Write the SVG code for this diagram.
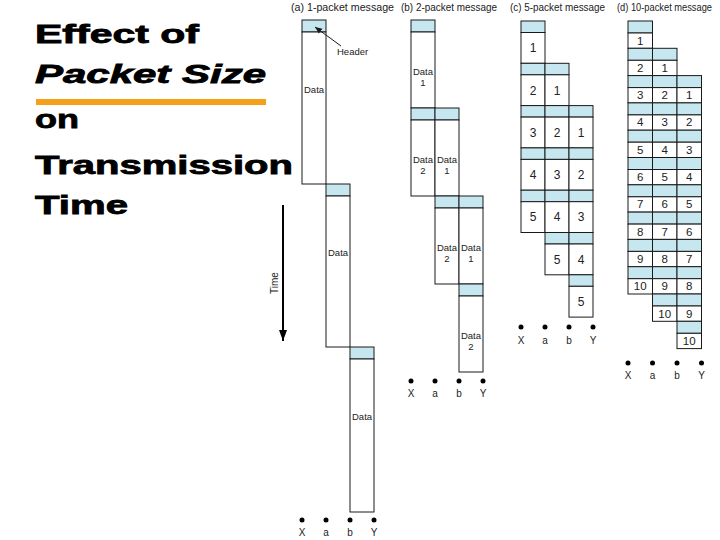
<svg xmlns="http://www.w3.org/2000/svg" width="720" height="540" viewBox="0 0 720 540">
<style>
.h{fill:#c6e6f0;stroke:#1a1a1a;stroke-width:1}
.d{fill:#fff;stroke:#1a1a1a;stroke-width:1}
.t{font-family:"Liberation Sans",Arial,sans-serif;font-size:9.5px;fill:#222}
.s{font-family:"Liberation Sans",Arial,sans-serif;font-size:10px;fill:#222}
.n{font-family:"Liberation Sans",Arial,sans-serif;font-size:12px;fill:#222;text-anchor:middle}
.m{font-family:"Liberation Sans",Arial,sans-serif;font-size:11.5px;fill:#222;text-anchor:middle}
.dc{font-family:"Liberation Sans",Arial,sans-serif;font-size:9.5px;fill:#222;text-anchor:middle}
.ti{font-family:"Liberation Sans",Arial,sans-serif;font-size:26px;font-weight:bold;fill:#000;stroke:#000;stroke-width:0.8}
.lb{font-family:"Liberation Sans",Arial,sans-serif;font-size:10px;fill:#222;text-anchor:middle}
</style>
<defs>
<marker id="ah" markerWidth="8" markerHeight="8" refX="7" refY="4" orient="auto" markerUnits="userSpaceOnUse">
<path d="M0,1 L7,4 L0,7 Z" fill="#1a1a1a"/>
</marker>
<marker id="ta" markerWidth="10" markerHeight="12" refX="5" refY="11" orient="0" markerUnits="userSpaceOnUse">
<path d="M1,0 L9,0 L5,11 Z" fill="#000"/>
</marker>
</defs>
<rect width="720" height="540" fill="#fff"/>

<g id="title">
<text class="ti" x="35" y="43" textLength="164" lengthAdjust="spacingAndGlyphs">Effect of</text>
<text class="ti" x="35" y="83" font-style="italic" textLength="231" lengthAdjust="spacingAndGlyphs">Packet Size</text>
<rect x="36" y="99" width="230" height="6" fill="#f5a01a"/>
<text class="ti" x="35" y="128" textLength="44" lengthAdjust="spacingAndGlyphs">on</text>
<text class="ti" x="35" y="174" textLength="258" lengthAdjust="spacingAndGlyphs">Transmission</text>
<text class="ti" x="35" y="214" textLength="93" lengthAdjust="spacingAndGlyphs">Time</text>
</g>

<g id="time-axis">
<line x1="283" y1="205" x2="283" y2="341" stroke="#000" stroke-width="2" marker-end="url(#ta)"/>
<text class="s" font-size="11" transform="translate(278,283) rotate(-90)" text-anchor="middle">Time</text>
</g>

<g id="panel-a">
<text class="s" x="291" y="11" textLength="103" lengthAdjust="spacingAndGlyphs">(a) 1-packet message</text>
<g id="a-col1">
<rect class="h" x="302" y="20" width="24" height="12"/>
<rect class="d" x="302" y="32" width="24" height="152"/>
<text class="t" x="304" y="93">Data</text>
</g>
<g id="a-col2">
<rect class="h" x="326" y="184" width="24" height="12"/>
<rect class="d" x="326" y="196" width="24" height="151"/>
<text class="t" x="328" y="256">Data</text>
</g>
<g id="a-col3">
<rect class="h" x="350" y="347" width="24" height="12"/>
<rect class="d" x="350" y="359" width="24" height="153"/>
<text class="t" x="352" y="420">Data</text>
</g>
<g id="a-header-label">
<text class="t" x="337" y="55">Header</text>
</g>
<g id="a-nodes">
<circle cx="302" cy="520" r="2.5" fill="#000"/><circle cx="326" cy="520" r="2.5" fill="#000"/><circle cx="350" cy="520" r="2.5" fill="#000"/><circle cx="374" cy="520" r="2.5" fill="#000"/>
<text class="lb" x="302" y="536">X</text><text class="lb" x="326" y="536">a</text><text class="lb" x="350" y="536">b</text><text class="lb" x="374" y="536">Y</text>
</g>
</g>

<g id="connectors">
<line x1="341" y1="46" x2="315" y2="27" stroke="#1a1a1a" stroke-width="1" marker-end="url(#ah)"/>
</g>

<g id="panel-b">
<text class="s" x="401" y="11" textLength="96" lengthAdjust="spacingAndGlyphs">(b) 2-packet message</text>
<g id="b-colX">
<rect class="h" x="411" y="20" width="24" height="12"/>
<rect class="d" x="411" y="32" width="24" height="76"/>
<text class="dc" x="423" y="75">Data</text><text class="dc" x="423" y="86">1</text>
<rect class="h" x="411" y="108" width="24" height="12"/>
<rect class="d" x="411" y="120" width="24" height="76"/>
<text class="dc" x="423" y="163">Data</text><text class="dc" x="423" y="174">2</text>
</g>
<g id="b-cola">
<rect class="h" x="435" y="108" width="24" height="12"/>
<rect class="d" x="435" y="120" width="24" height="76"/>
<text class="dc" x="447" y="163">Data</text><text class="dc" x="447" y="174">1</text>
<rect class="h" x="435" y="196" width="24" height="12"/>
<rect class="d" x="435" y="208" width="24" height="76"/>
<text class="dc" x="447" y="251">Data</text><text class="dc" x="447" y="262">2</text>
</g>
<g id="b-colb">
<rect class="h" x="459" y="196" width="24" height="12"/>
<rect class="d" x="459" y="208" width="24" height="76"/>
<text class="dc" x="471" y="251">Data</text><text class="dc" x="471" y="262">1</text>
<rect class="h" x="459" y="284" width="24" height="12"/>
<rect class="d" x="459" y="296" width="24" height="76"/>
<text class="dc" x="471" y="339">Data</text><text class="dc" x="471" y="350">2</text>
</g>
<g id="b-nodes">
<circle cx="411" cy="381" r="2.5" fill="#000"/><circle cx="435" cy="381" r="2.5" fill="#000"/><circle cx="459" cy="381" r="2.5" fill="#000"/><circle cx="483" cy="381" r="2.5" fill="#000"/>
<text class="lb" x="411" y="397">X</text><text class="lb" x="435" y="397">a</text><text class="lb" x="459" y="397">b</text><text class="lb" x="483" y="397">Y</text>
</g>
</g>

<g id="panel-c">
<text class="s" x="510" y="11" textLength="95" lengthAdjust="spacingAndGlyphs">(c) 5-packet message</text>
<g id="c-colX">
<rect class="h" x="521" y="21" width="24" height="11.5"/><rect class="d" x="521" y="32.5" width="24" height="30.8"/><text class="n" x="533" y="52">1</text>
<rect class="h" x="521" y="63.3" width="24" height="11.5"/><rect class="d" x="521" y="74.8" width="24" height="30.8"/><text class="n" x="533" y="94.5">2</text>
<rect class="h" x="521" y="105.6" width="24" height="11.5"/><rect class="d" x="521" y="117.1" width="24" height="30.8"/><text class="n" x="533" y="136.8">3</text>
<rect class="h" x="521" y="147.9" width="24" height="11.5"/><rect class="d" x="521" y="159.4" width="24" height="30.8"/><text class="n" x="533" y="179">4</text>
<rect class="h" x="521" y="190.2" width="24" height="11.5"/><rect class="d" x="521" y="201.7" width="24" height="30.8"/><text class="n" x="533" y="221.3">5</text>
</g>
<g id="c-cola">
<rect class="h" x="545" y="63.3" width="24" height="11.5"/><rect class="d" x="545" y="74.8" width="24" height="30.8"/><text class="n" x="557" y="94.5">1</text>
<rect class="h" x="545" y="105.6" width="24" height="11.5"/><rect class="d" x="545" y="117.1" width="24" height="30.8"/><text class="n" x="557" y="136.8">2</text>
<rect class="h" x="545" y="147.9" width="24" height="11.5"/><rect class="d" x="545" y="159.4" width="24" height="30.8"/><text class="n" x="557" y="179">3</text>
<rect class="h" x="545" y="190.2" width="24" height="11.5"/><rect class="d" x="545" y="201.7" width="24" height="30.8"/><text class="n" x="557" y="221.3">4</text>
<rect class="h" x="545" y="232.5" width="24" height="11.5"/><rect class="d" x="545" y="244" width="24" height="30.8"/><text class="n" x="557" y="263.6">5</text>
</g>
<g id="c-colb">
<rect class="h" x="569" y="105.6" width="24" height="11.5"/><rect class="d" x="569" y="117.1" width="24" height="30.8"/><text class="n" x="581" y="136.8">1</text>
<rect class="h" x="569" y="147.9" width="24" height="11.5"/><rect class="d" x="569" y="159.4" width="24" height="30.8"/><text class="n" x="581" y="179">2</text>
<rect class="h" x="569" y="190.2" width="24" height="11.5"/><rect class="d" x="569" y="201.7" width="24" height="30.8"/><text class="n" x="581" y="221.3">3</text>
<rect class="h" x="569" y="232.5" width="24" height="11.5"/><rect class="d" x="569" y="244" width="24" height="30.8"/><text class="n" x="581" y="263.6">4</text>
<rect class="h" x="569" y="274.8" width="24" height="11.5"/><rect class="d" x="569" y="286.3" width="24" height="30.8"/><text class="n" x="581" y="306">5</text>
</g>
<g id="c-nodes">
<circle cx="521" cy="327" r="2.5" fill="#000"/><circle cx="545" cy="327" r="2.5" fill="#000"/><circle cx="569" cy="327" r="2.5" fill="#000"/><circle cx="593" cy="327" r="2.5" fill="#000"/>
<text class="lb" x="521" y="344">X</text><text class="lb" x="545" y="344">a</text><text class="lb" x="569" y="344">b</text><text class="lb" x="593" y="344">Y</text>
</g>
</g>

<g id="panel-d">
<text class="s" x="617" y="11" textLength="95" lengthAdjust="spacingAndGlyphs">(d) 10-packet message</text>
<g id="d-colX">
<rect class="h" x="628" y="21" width="24.5" height="12"/><rect class="d" x="628" y="33" width="24.5" height="15.3"/><text class="m" x="640.25" y="44.5">1</text>
<rect class="h" x="628" y="48.3" width="24.5" height="12"/><rect class="d" x="628" y="60.3" width="24.5" height="15.3"/><text class="m" x="640.25" y="71.8">2</text>
<rect class="h" x="628" y="75.6" width="24.5" height="12"/><rect class="d" x="628" y="87.6" width="24.5" height="15.3"/><text class="m" x="640.25" y="99.1">3</text>
<rect class="h" x="628" y="102.9" width="24.5" height="12"/><rect class="d" x="628" y="114.9" width="24.5" height="15.3"/><text class="m" x="640.25" y="126.4">4</text>
<rect class="h" x="628" y="130.2" width="24.5" height="12"/><rect class="d" x="628" y="142.2" width="24.5" height="15.3"/><text class="m" x="640.25" y="153.7">5</text>
<rect class="h" x="628" y="157.5" width="24.5" height="12"/><rect class="d" x="628" y="169.5" width="24.5" height="15.3"/><text class="m" x="640.25" y="181">6</text>
<rect class="h" x="628" y="184.8" width="24.5" height="12"/><rect class="d" x="628" y="196.8" width="24.5" height="15.3"/><text class="m" x="640.25" y="208.3">7</text>
<rect class="h" x="628" y="212.1" width="24.5" height="12"/><rect class="d" x="628" y="224.1" width="24.5" height="15.3"/><text class="m" x="640.25" y="235.6">8</text>
<rect class="h" x="628" y="239.4" width="24.5" height="12"/><rect class="d" x="628" y="251.4" width="24.5" height="15.3"/><text class="m" x="640.25" y="262.9">9</text>
<rect class="h" x="628" y="266.7" width="24.5" height="12"/><rect class="d" x="628" y="278.7" width="24.5" height="15.3"/><text class="m" x="640.25" y="290.2">10</text>
</g>
<g id="d-cola">
<rect class="h" x="652.5" y="48.3" width="24.5" height="12"/><rect class="d" x="652.5" y="60.3" width="24.5" height="15.3"/><text class="m" x="664.75" y="71.8">1</text>
<rect class="h" x="652.5" y="75.6" width="24.5" height="12"/><rect class="d" x="652.5" y="87.6" width="24.5" height="15.3"/><text class="m" x="664.75" y="99.1">2</text>
<rect class="h" x="652.5" y="102.9" width="24.5" height="12"/><rect class="d" x="652.5" y="114.9" width="24.5" height="15.3"/><text class="m" x="664.75" y="126.4">3</text>
<rect class="h" x="652.5" y="130.2" width="24.5" height="12"/><rect class="d" x="652.5" y="142.2" width="24.5" height="15.3"/><text class="m" x="664.75" y="153.7">4</text>
<rect class="h" x="652.5" y="157.5" width="24.5" height="12"/><rect class="d" x="652.5" y="169.5" width="24.5" height="15.3"/><text class="m" x="664.75" y="181">5</text>
<rect class="h" x="652.5" y="184.8" width="24.5" height="12"/><rect class="d" x="652.5" y="196.8" width="24.5" height="15.3"/><text class="m" x="664.75" y="208.3">6</text>
<rect class="h" x="652.5" y="212.1" width="24.5" height="12"/><rect class="d" x="652.5" y="224.1" width="24.5" height="15.3"/><text class="m" x="664.75" y="235.6">7</text>
<rect class="h" x="652.5" y="239.4" width="24.5" height="12"/><rect class="d" x="652.5" y="251.4" width="24.5" height="15.3"/><text class="m" x="664.75" y="262.9">8</text>
<rect class="h" x="652.5" y="266.7" width="24.5" height="12"/><rect class="d" x="652.5" y="278.7" width="24.5" height="15.3"/><text class="m" x="664.75" y="290.2">9</text>
<rect class="h" x="652.5" y="294" width="24.5" height="12"/><rect class="d" x="652.5" y="306" width="24.5" height="15.3"/><text class="m" x="664.75" y="317.5">10</text>
</g>
<g id="d-colb">
<rect class="h" x="677" y="75.6" width="24.5" height="12"/><rect class="d" x="677" y="87.6" width="24.5" height="15.3"/><text class="m" x="689.25" y="99.1">1</text>
<rect class="h" x="677" y="102.9" width="24.5" height="12"/><rect class="d" x="677" y="114.9" width="24.5" height="15.3"/><text class="m" x="689.25" y="126.4">2</text>
<rect class="h" x="677" y="130.2" width="24.5" height="12"/><rect class="d" x="677" y="142.2" width="24.5" height="15.3"/><text class="m" x="689.25" y="153.7">3</text>
<rect class="h" x="677" y="157.5" width="24.5" height="12"/><rect class="d" x="677" y="169.5" width="24.5" height="15.3"/><text class="m" x="689.25" y="181">4</text>
<rect class="h" x="677" y="184.8" width="24.5" height="12"/><rect class="d" x="677" y="196.8" width="24.5" height="15.3"/><text class="m" x="689.25" y="208.3">5</text>
<rect class="h" x="677" y="212.1" width="24.5" height="12"/><rect class="d" x="677" y="224.1" width="24.5" height="15.3"/><text class="m" x="689.25" y="235.6">6</text>
<rect class="h" x="677" y="239.4" width="24.5" height="12"/><rect class="d" x="677" y="251.4" width="24.5" height="15.3"/><text class="m" x="689.25" y="262.9">7</text>
<rect class="h" x="677" y="266.7" width="24.5" height="12"/><rect class="d" x="677" y="278.7" width="24.5" height="15.3"/><text class="m" x="689.25" y="290.2">8</text>
<rect class="h" x="677" y="294" width="24.5" height="12"/><rect class="d" x="677" y="306" width="24.5" height="15.3"/><text class="m" x="689.25" y="317.5">9</text>
<rect class="h" x="677" y="321.3" width="24.5" height="12"/><rect class="d" x="677" y="333.3" width="24.5" height="15.3"/><text class="m" x="689.25" y="344.8">10</text>
</g>
<g id="d-nodes">
<circle cx="628" cy="363" r="2.5" fill="#000"/><circle cx="652.5" cy="363" r="2.5" fill="#000"/><circle cx="677" cy="363" r="2.5" fill="#000"/><circle cx="701.5" cy="363" r="2.5" fill="#000"/>
<text class="lb" x="628" y="379">X</text><text class="lb" x="652.5" y="379">a</text><text class="lb" x="677" y="379">b</text><text class="lb" x="701.5" y="379">Y</text>
</g>
</g>
</svg>
